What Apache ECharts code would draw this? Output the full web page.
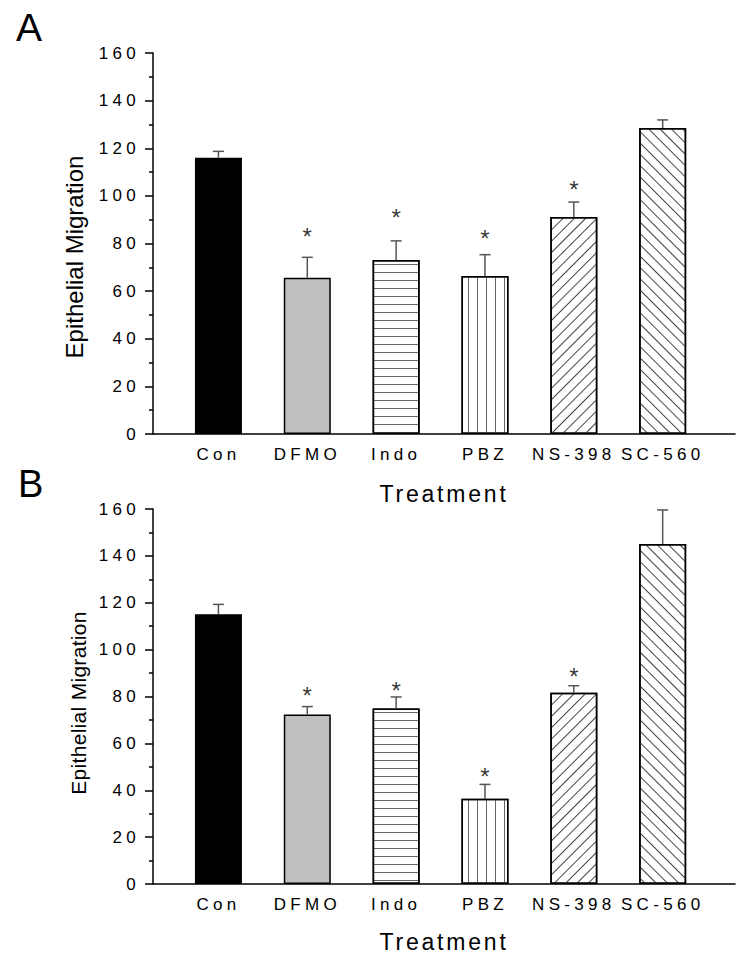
<!DOCTYPE html>
<html>
<head>
<meta charset="utf-8">
<script src="https://cdn.jsdelivr.net/npm/echarts@6/dist/echarts.min.js"></script>
<style>
html, body { margin: 0; padding: 0; background: #fff; }
#chart { width: 744px; height: 967px; }
#chart text[style*="zzspa"], #chart text[font-family*="zzspa"] { letter-spacing: 4.3px; }
#chart text[style*="zzspb"], #chart text[font-family*="zzspb"] { letter-spacing: 2.8px; }
#chart text[style*="zzspc"], #chart text[font-family*="zzspc"] { letter-spacing: 0.3px; }
</style>
</head>
<body>
<div id="chart"></div>
<script>
// ---- data ----
const categories = ['Con', 'DFMO', 'Indo', 'PBZ', 'NS-398', 'SC-560'];
const yTicks = [0, 20, 40, 60, 80, 100, 120, 140, 160];

const meanA = [116.0, 65.6, 73.1, 66.4, 91.1, 128.5];
const errA  = [2.7, 8.6, 8.0, 8.9, 6.3, 3.4];
const starA = [null, 85.3, 93.2, 84.4, 105.0, null];

const meanB = [115.1, 72.3, 74.9, 36.4, 81.6, 145.1];
const errB  = [4.2, 3.4, 4.9, 6.1, 3.0, 14.5];
const starB = [null, 82.8, 84.9, 48.2, 90.7, null];

const panelLabels = ['A', 'B'];
const xTitle = 'Treatment';
const yTitle = 'Epithelial Migration';

// ---- styles ----
const LINE = '#666';
const barStyles = [
  { color: '#000', borderColor: '#000', borderWidth: 1.5 },
  { color: '#c0c0c0', borderColor: '#000', borderWidth: 1.5 },
  { color: '#fff', borderColor: '#000', borderWidth: 1.5,
    decal: { symbol: 'rect', symbolSize: 1, dashArrayX: [1, 0], dashArrayY: [1, 7], color: LINE } },
  { color: '#fff', borderColor: '#000', borderWidth: 1.5,
    decal: { symbol: 'rect', symbolSize: 1, dashArrayX: [1, 8], dashArrayY: [1, 0], color: LINE } },
  { color: '#fff', borderColor: '#000', borderWidth: 1.5,
    decal: { symbol: 'rect', symbolSize: 1, dashArrayX: [1, 0], dashArrayY: [1, 7], rotation: -Math.PI / 4, color: '#444' } },
  { color: '#fff', borderColor: '#000', borderWidth: 1.5,
    decal: { symbol: 'rect', symbolSize: 1, dashArrayX: [1, 0], dashArrayY: [1, 7], rotation: Math.PI / 4, color: '#444' } }
];

const FONT = "'Liberation Sans', Arial, sans-serif";
const FONT_SPA = "'Liberation Sans', zzspa, sans-serif";
const FONT_SPB = "'Liberation Sans', zzspb, sans-serif";
const FONT_SPC = "'Liberation Sans', zzspc, sans-serif";

const grids = [
  { left: 153, right: 9, top: 53, bottom: 533 },
  { left: 153, right: 9, top: 509, bottom: 83 }
];
const panelCfg = [
  { mean: meanA, err: errA, star: starA, xNameGap: 48 },
  { mean: meanB, err: errB, star: starB, xNameGap: 46 }
];

const xAxes = [], yAxes = [], series = [];
panelCfg.forEach((p, g) => {
  xAxes.push({
    type: 'value', gridIndex: g, min: 0.2635, max: 6.814,
    splitNumber: 6,
    name: xTitle, nameLocation: 'middle', nameGap: p.xNameGap,
    nameTextStyle: { fontSize: 23, fontFamily: FONT_SPB, color: '#000' },
    axisLine: { show: true, onZero: false, lineStyle: { color: '#000', width: 1.6 } },
    axisTick: { show: false },
    splitLine: { show: false },
    axisLabel: {
      customValues: categories.map((c, i) => i + 1),
      margin: 12, fontSize: 17, fontFamily: FONT_SPA, color: '#000',
      formatter: v => (Number.isInteger(v) && categories[v - 1]) ? categories[v - 1] : ''
    }
  });
  yAxes.push({
    type: 'value', gridIndex: g, min: yTicks[0], max: yTicks[yTicks.length - 1], interval: 20,
    axisLine: { show: true, lineStyle: { color: '#000', width: 1.5 } },
    axisTick: { show: true, length: 8, lineStyle: { color: '#000', width: 1.5 } },
    minorTick: { show: true, splitNumber: 2, length: 4, lineStyle: { color: '#000', width: 1.5 } },
    splitLine: { show: false },
    axisLabel: { margin: 13, fontSize: 17, fontFamily: FONT_SPA, color: '#000' }
  });
  series.push({
    type: 'bar', xAxisIndex: g, yAxisIndex: g, barWidth: 47, z: 2,
    data: p.mean.map((v, i) => ({ value: [i + 1, v], itemStyle: barStyles[i] }))
  });
  series.push({
    type: 'custom', xAxisIndex: g, yAxisIndex: g, z: 3,
    data: p.mean.map((v, i) => [i + 1, v, p.err[i]]),
    renderItem: (params, api) => {
      const x = api.value(0), y = api.value(1), e = api.value(2);
      const p0 = api.coord([x, y]);
      const p1 = api.coord([x, y + e]);
      const st = { stroke: '#555', lineWidth: 1.5 };
      return {
        type: 'group',
        children: [
          { type: 'line', shape: { x1: p0[0], y1: p0[1], x2: p1[0], y2: p1[1] }, style: st },
          { type: 'line', shape: { x1: p1[0] - 5.5, y1: p1[1], x2: p1[0] + 5.5, y2: p1[1] }, style: st }
        ]
      };
    }
  });
  series.push({
    type: 'scatter', xAxisIndex: g, yAxisIndex: g, z: 4,
    symbolSize: 1, itemStyle: { color: 'rgba(0,0,0,0)' },
    data: p.star.map((v, i) => v == null ? null : [i + 1, v]).filter(d => d),
    label: {
      show: true, position: 'inside', formatter: '*', fontSize: 24,
      fontFamily: FONT, color: '#000', offset: [0, 5.5]
    }
  });
});

const option = {
  animation: false,
  backgroundColor: '#fff',
  title: [
    { text: panelLabels[0], left: 16, top: 8, padding: 0,
      textStyle: { fontSize: 39, fontWeight: 'normal', fontFamily: FONT, color: '#000' } },
    { text: panelLabels[1], left: 18, top: 465, padding: 0,
      textStyle: { fontSize: 38, fontWeight: 'normal', fontFamily: FONT, color: '#000' } }
  ],
  graphic: [
    { type: 'text', x: 74, y: 257, rotation: Math.PI / 2, silent: true,
      style: { text: yTitle, fontSize: 24, fontFamily: FONT, fill: '#000', align: 'center', verticalAlign: 'middle' } },
    { type: 'text', x: 78, y: 703, rotation: Math.PI / 2, silent: true,
      style: { text: yTitle, fontSize: 21, fontFamily: FONT_SPC, fill: '#000', align: 'center', verticalAlign: 'middle' } }
  ],
  grid: grids,
  xAxis: xAxes,
  yAxis: yAxes,
  series: series
};

const chart = echarts.init(document.getElementById('chart'), null, { renderer: 'svg' });
chart.setOption(option);
</script>
</body>
</html>
